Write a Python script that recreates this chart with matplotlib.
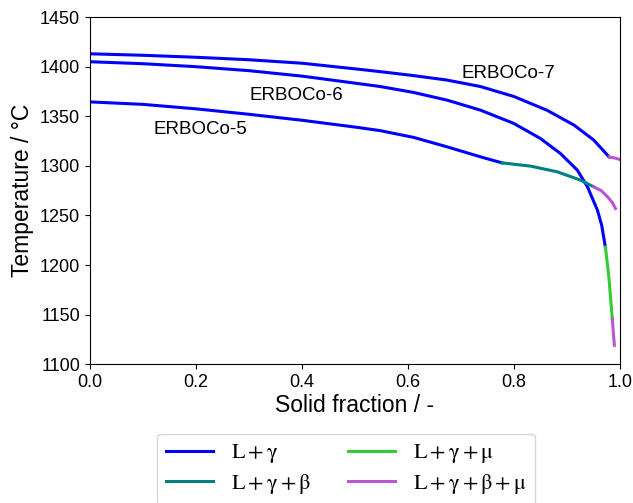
import matplotlib
matplotlib.use("Agg")
import matplotlib.pyplot as plt

plt.rcParams["font.family"] = ["Liberation Sans", "DejaVu Sans"]
plt.rcParams["mathtext.fontset"] = "stix"

# phase colours
C_LG = "#0000ff"
C_LGB = "#008080"
C_LGM = "#33cc33"
C_LGBM = "#ba55d3"

# ERBOCo-7
e7_lg_x = [0.0, 0.1, 0.2, 0.3, 0.4, 0.506, 0.548, 0.611, 0.674, 0.737, 0.80,
           0.863, 0.914, 0.951, 0.98]
e7_lg_t = [1413, 1411.5, 1409.5, 1407, 1403.5, 1397.5, 1395, 1391, 1386.5, 1380,
           1370, 1356, 1341, 1326, 1309]
e7_lgbm_x = [0.98, 0.99, 1.0]
e7_lgbm_t = [1309, 1308, 1306.5]

# ERBOCo-6
e6_lg_x = [0.0, 0.1, 0.2, 0.3, 0.4, 0.506, 0.548, 0.611, 0.674, 0.737, 0.80,
           0.85, 0.888, 0.92, 0.939, 0.958, 0.966, 0.973]
e6_lg_t = [1405, 1403, 1400, 1396, 1390.5, 1383, 1380, 1374, 1366.3, 1356.2, 1342.8,
           1327.7, 1312.5, 1295.7, 1279, 1255.3, 1240, 1218]
e6_lgm_x = [0.973, 0.977, 0.980, 0.983, 0.986]
e6_lgm_t = [1218, 1200, 1185, 1165, 1146]
e6_lgbm_x = [0.986, 0.988, 0.990]
e6_lgbm_t = [1146, 1132, 1119]

# ERBOCo-5
e5_lg_x = [0.0, 0.1, 0.2, 0.3, 0.4, 0.506, 0.548, 0.611, 0.674, 0.737, 0.778]
e5_lg_t = [1364.5, 1362, 1357.5, 1352, 1346, 1338.7, 1335.5, 1328.7, 1319.2, 1309.1, 1303]
e5_lgb_x = [0.778, 0.832, 0.882, 0.926, 0.951]
e5_lgb_t = [1303, 1299.7, 1294, 1285.6, 1278.8]
e5_lgbm_x = [0.951, 0.965, 0.977, 0.986, 0.992]
e5_lgbm_t = [1278.8, 1275, 1268.8, 1263, 1257]

labels = ["ERBOCo-7", "ERBOCo-6", "ERBOCo-5"]
label_x = [0.79, 0.389, 0.209]
label_t = [1393.5, 1371.3, 1337]

fig = plt.figure(figsize=(6.33, 5.03), dpi=100)
ax = fig.add_axes([0.142, 0.276, 0.837, 0.690])

lw = 2.2
ax.plot(e7_lg_x, e7_lg_t, color=C_LG, lw=lw, label=r"$\mathrm{L+\gamma}$")
ax.plot(e6_lg_x, e6_lg_t, color=C_LG, lw=lw)
ax.plot(e5_lg_x, e5_lg_t, color=C_LG, lw=lw)
ax.plot(e5_lgb_x, e5_lgb_t, color=C_LGB, lw=lw, label=r"$\mathrm{L+\gamma+\beta}$")
ax.plot(e6_lgm_x, e6_lgm_t, color=C_LGM, lw=lw, label=r"$\mathrm{L+\gamma+\mu}$")
ax.plot(e7_lgbm_x, e7_lgbm_t, color=C_LGBM, lw=lw, label=r"$\mathrm{L+\gamma+\beta+\mu}$")
ax.plot(e6_lgbm_x, e6_lgbm_t, color=C_LGBM, lw=lw)
ax.plot(e5_lgbm_x, e5_lgbm_t, color=C_LGBM, lw=lw)

for name, x, t in zip(labels, label_x, label_t):
    ax.text(x, t, name, fontsize=13.5, ha="center", va="center")

ax.set_xlim(0, 1)
ax.set_ylim(1100, 1450)
ax.tick_params(labelsize=13)
ax.set_xlabel("Solid fraction / -", fontsize=16.5, labelpad=2)
ax.set_ylabel("Temperature / °C", fontsize=16.5)

ax.legend(loc="upper center", bbox_to_anchor=(0.484, -0.2), borderaxespad=0,
          ncol=2, fontsize=16, columnspacing=1.7, handlelength=2.1,
          labelspacing=0.3)

fig.savefig("out.png", dpi=100)
